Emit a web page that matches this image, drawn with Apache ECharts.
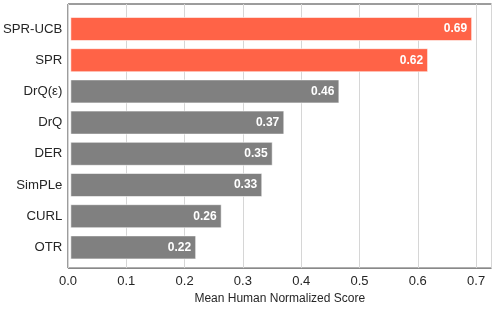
<!DOCTYPE html>
<html><head><meta charset="utf-8">
<script src="https://cdn.jsdelivr.net/npm/echarts@6/dist/echarts.min.js"></script>
<style>html,body{margin:0;padding:0;background:#fff}#c{width:498px;height:310px}</style>
</head><body><div id="c"></div>
<script>
const categories = ['SPR-UCB', 'SPR', 'DrQ(\u03b5)', 'DrQ', 'DER', 'SimPLe', 'CURL', 'OTR'];
const scores = [0.693, 0.617, 0.464, 0.369, 0.349, 0.331, 0.261, 0.217];
const highlighted = ['SPR-UCB', 'SPR'];
const xTicks = [0, 0.1, 0.2, 0.3, 0.4, 0.5, 0.6, 0.7];
const xName = 'Mean Human Normalized Score';

const FONT = 'Liberation Sans, Arial, sans-serif';
const XMAX = 0.7264;
const chart = echarts.init(document.getElementById('c'), null, {renderer: 'canvas'});
chart.setOption({
  animation: false,
  grid: [
    {left: 68, right: 6.5, top: 4, bottom: 38, show: true, borderColor: '#3a3a3a', borderWidth: 1, backgroundColor: 'transparent'},
    {left: 68, right: 6.5, top: 13.4, height: 249.6}
  ],
  xAxis: [
    {gridIndex: 0, type: 'value', min: 0, max: XMAX, interval: 0.1,
     axisLine: {show: false}, axisTick: {show: false},
     splitLine: {show: true, lineStyle: {color: '#d6d6d6', width: 1}},
     axisLabel: {color: '#262626', fontFamily: FONT, fontSize: 13, margin: 7,
       formatter: v => xTicks.some(t => Math.abs(t - v) < 1e-9) ? v.toFixed(1) : ''},
     name: xName, nameLocation: 'middle', nameGap: 23,
     nameTextStyle: {color: '#262626', fontFamily: FONT, fontSize: 12}},
    {gridIndex: 1, type: 'value', min: 0, max: XMAX, show: false}
  ],
  yAxis: [
    {gridIndex: 0, type: 'value', show: false},
    {gridIndex: 1, type: 'category', data: categories, inverse: true,
     axisLine: {show: false}, axisTick: {show: false}, splitLine: {show: false},
     axisLabel: {color: '#262626', fontFamily: FONT, fontSize: 13.2, margin: 8}}
  ],
  series: [{
    type: 'bar', xAxisIndex: 1, yAxisIndex: 1, barWidth: 24,
    data: categories.map((c, i) => ({
      value: scores[i],
      itemStyle: {color: highlighted.includes(c) ? '#ff6347' : '#808080'}
    })),
    itemStyle: {borderColor: 'rgba(255,255,255,0.55)', borderWidth: 1},
    label: {show: true, position: 'insideRight', distance: 5, color: '#ffffff',
      fontFamily: FONT, fontWeight: 'bold', fontSize: 12,
      formatter: p => p.value.toFixed(2)}
  }]
});
</script></body></html>
